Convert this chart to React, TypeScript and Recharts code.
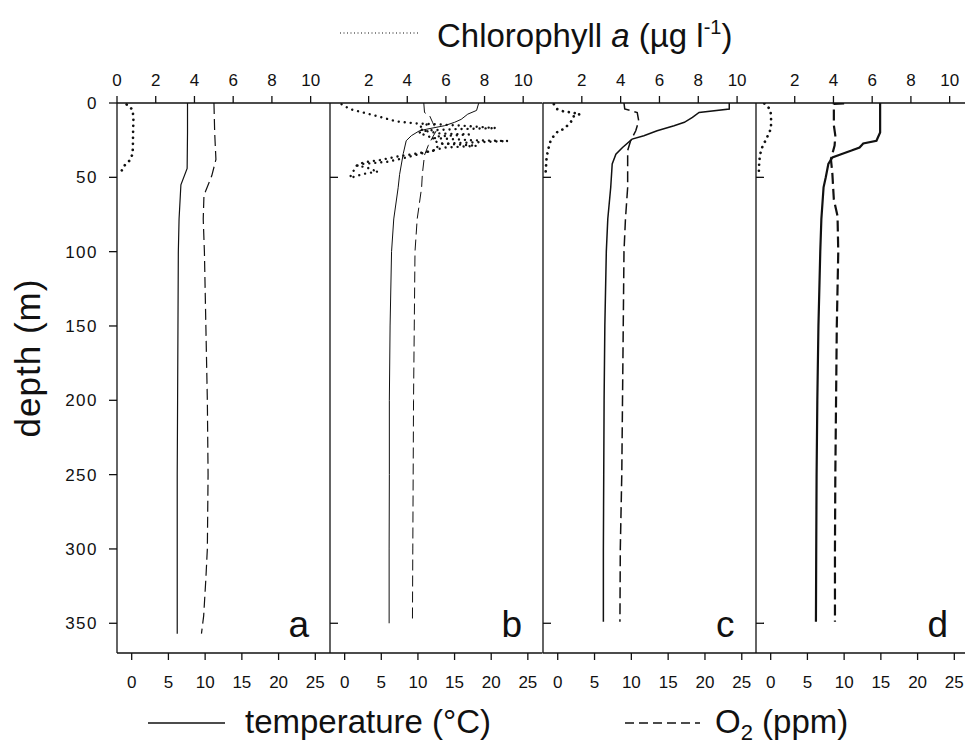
import React from "react";
import { ScatterChart, Scatter, XAxis, YAxis } from "recharts";

type Pt = { v: number; d: number };
const pts = (rows: number[][]): Pt[] => rows.map(([v, d]) => ({ v, d }));

// station a
const tempA = pts([[7.6, 0], [7.6, 20], [7.55, 44], [6.7, 55], [6.45, 78], [6.35, 100], [6.3, 150], [6.25, 200], [6.2, 250], [6.2, 300], [6.2, 357]]);
const o2A = pts([[11.2, 0], [11.3, 20], [11.47, 38], [10.9, 49], [9.84, 62], [9.74, 78], [9.9, 100], [10.1, 150], [10.3, 200], [10.4, 250], [10.3, 300], [10.1, 320], [9.8, 345], [9.5, 357]]);
const chlA = pts([[0.5, 1], [0.8, 4.4], [0.85, 10], [0.83, 20], [0.82, 30], [0.8, 34.6], [0.63, 39], [0.36, 42.4], [0.19, 46.9]]);

// station b
const tempB = pts([[18.3, 0], [18.0, 5], [16.8, 7.5], [15.9, 11], [15.0, 13], [13.6, 15.3], [11.2, 17.6], [10.2, 18.7], [9.1, 22], [8.4, 25.4], [8.0, 34], [7.5, 48], [7.3, 57], [6.7, 78], [6.4, 100], [6.2, 150], [6.1, 200], [6.1, 250], [6.07, 300], [6.07, 350]]);
const o2B = pts([[10.8, 0], [10.9, 6.4], [11.6, 8.6], [12.0, 13], [12.5, 18.7], [12.0, 23], [11.4, 28.7], [10.9, 35], [10.6, 48], [10.5, 57], [9.9, 78], [9.6, 100], [9.5, 150], [9.4, 200], [9.35, 250], [9.3, 300], [9.25, 350]]);
const chlB1 = pts([[0.6, 0.8], [1.03, 4.1], [1.72, 6.4], [2.58, 9.3], [3.44, 12.4], [4.47, 13.8], [5.33, 14.2], [6.87, 15.3], [8.6, 16.9], [6.5, 17.6], [5.0, 18.5], [4.6, 20], [5.0, 22], [5.3, 23.5], [7.2, 25], [9.2, 25.6], [7.5, 26.5], [5.8, 27.5], [5.5, 30], [5.4, 32], [4.3, 34.4], [3.44, 36.1], [2.58, 38.4], [1.72, 40], [1.37, 42.2], [1.03, 50]]);
const chlB2 = pts([[5.0, 14.5], [4.6, 16.5], [4.8, 18.5], [5.7, 20.5], [7.2, 21.2], [5.6, 22.5], [5.3, 24], [5.6, 27], [7.6, 28.8], [5.9, 30], [5.0, 33], [4.0, 36.5], [3.0, 39.5], [1.7, 41], [1.4, 42.2], [1.9, 43.3], [2.15, 44.9], [2.5, 46], [1.7, 47.8], [1.03, 50.5]]);

// station c
const tempC = pts([[23.3, 0], [23.3, 4.1], [19.2, 6.4], [18.3, 9.7], [17.2, 13], [15.8, 15.3], [13.5, 18.7], [11.7, 22], [10.1, 24.3], [8.8, 29.9], [7.9, 34.4], [7.4, 41], [7.2, 56.7], [6.8, 78], [6.6, 100], [6.4, 150], [6.3, 200], [6.25, 250], [6.2, 300], [6.2, 349]]);
const o2C = pts([[9.0, 0], [9.1, 4], [10.8, 6.4], [11.0, 12], [10.6, 18.7], [9.9, 25.4], [9.5, 32], [9.5, 56.7], [9.2, 78], [9.0, 100], [8.9, 150], [8.8, 200], [8.7, 250], [8.5, 300], [8.45, 349]]);
const chlC = pts([[0.56, 0.8], [0.73, 4.1], [1.07, 5.7], [1.5, 6.4], [1.9, 7.5], [1.59, 8.6], [1.55, 10.9], [1.33, 14.2], [1.07, 17.6], [0.81, 18.5], [0.56, 22], [0.39, 25.4], [0.25, 32], [0.18, 37.7], [0.13, 47.8]]);

// station d
const tempD = pts([[14.9, 0], [14.9, 19.8], [14.4, 25.4], [12.6, 27.2], [12.1, 29.9], [11.0, 32], [9.4, 34.8], [8.4, 36.6], [7.85, 41], [7.5, 50], [7.2, 56.7], [6.9, 78], [6.75, 100], [6.5, 150], [6.35, 200], [6.25, 250], [6.2, 300], [6.16, 349]]);
const o2D = pts([[10.0, 0.3], [8.6, 0.6], [8.6, 15], [8.8, 22], [8.7, 28.7], [8.2, 37.7], [8.4, 47.8], [8.5, 56.7], [8.6, 65], [9.1, 76], [9.2, 100], [9.0, 150], [8.9, 200], [8.8, 250], [8.75, 300], [8.75, 349]]);
const chlD = pts([[0.43, 0.4], [0.72, 4.1], [0.77, 7.5], [0.78, 12], [0.77, 17.6], [0.63, 20.9], [0.55, 24.3], [0.38, 27.6], [0.26, 32], [0.19, 36.6], [0.15, 43.3], [0.15, 47.8]]);

const depthTicks = [0, 50, 100, 150, 200, 250, 300, 350];
const innerDepthTicks = [50, 350];
const chlTicksFirst = [0, 2, 4, 6, 8, 10];
const chlTicks = [2, 4, 6, 8, 10];
const tempTicks = [0, 5, 10, 15, 20, 25];
const panelLetters = ["a", "b", "c", "d"];

const FONT = "'Liberation Sans', Arial, Helvetica, sans-serif";
const INK = "#111";
const axisStyle = { stroke: INK, strokeWidth: 1.3 };
const tickText = { fill: INK, fontSize: 17, fontFamily: FONT };
const noShape = () => <g />;
const noTick = () => <g />;
const PAD = 10; // keeps the left axis line of panels b-d from being clipped by the svg edge

interface PanelProps {
  left: number;
  width: number;
  first?: boolean;
  temp: Pt[];
  o2: Pt[];
  chl: Pt[][];
  weight: number;
  dot: number;
}

function Panel({ left, width, first, temp, o2, chl, weight, dot }: PanelProps) {
  const offset = first ? left : PAD;
  return (
    <div style={{ position: "absolute", left: left - offset, top: 0 }}>
      <ScatterChart
        width={width + offset}
        height={745}
        margin={{ top: 0, right: 0, bottom: 0, left: first ? 0 : PAD }}
      >
        <XAxis
          xAxisId="chl"
          orientation="top"
          type="number"
          dataKey="v"
          domain={[0, 11]}
          ticks={first ? chlTicksFirst : chlTicks}
          interval={0}
          allowDataOverflow
          height={103}
          tickSize={7}
          tickMargin={10}
          axisLine={axisStyle}
          tickLine={axisStyle}
          tick={tickText}
        />
        <XAxis
          xAxisId="t"
          orientation="bottom"
          type="number"
          dataKey="v"
          domain={[-2, 27]}
          ticks={tempTicks}
          interval={0}
          allowDataOverflow
          height={92}
          tickSize={7}
          tickMargin={16}
          axisLine={axisStyle}
          tickLine={axisStyle}
          tick={tickText}
        />
        {first ? (
          <YAxis
            yAxisId="z"
            type="number"
            dataKey="d"
            reversed
            domain={[0, 370]}
            ticks={depthTicks}
            interval={0}
            allowDataOverflow
            width={left}
            tickSize={8}
            tickMargin={11}
            axisLine={axisStyle}
            tickLine={axisStyle}
            tick={{ ...tickText, letterSpacing: 1.5 }}
          />
        ) : (
          <YAxis
            yAxisId="z"
            type="number"
            dataKey="d"
            reversed
            mirror
            domain={[0, 370]}
            ticks={innerDepthTicks}
            interval={0}
            allowDataOverflow
            width={20}
            tickSize={8}
            axisLine={axisStyle}
            tickLine={axisStyle}
            tick={noTick}
          />
        )}
        {chl.map((s, i) => (
          <Scatter
            key={i}
            xAxisId="chl"
            yAxisId="z"
            data={s}
            fill={INK}
            shape={noShape}
            line={{ stroke: INK, strokeWidth: dot, strokeDasharray: "0.01 6", strokeLinecap: "round" }}
            isAnimationActive={false}
          />
        ))}
        <Scatter
          xAxisId="t"
          yAxisId="z"
          data={temp}
          fill={INK}
          shape={noShape}
          line={{ stroke: INK, strokeWidth: weight }}
          isAnimationActive={false}
        />
        <Scatter
          xAxisId="t"
          yAxisId="z"
          data={o2}
          fill={INK}
          shape={noShape}
          line={{ stroke: INK, strokeWidth: weight, strokeDasharray: "11 5" }}
          isAnimationActive={false}
        />
      </ScatterChart>
    </div>
  );
}

const panelLefts = [117, 330, 542.5, 756];

export default function App() {
  return (
    <div
      style={{
        position: "absolute",
        left: 0,
        top: 0,
        width: 965,
        height: 745,
        overflow: "hidden",
        background: "#fff",
        fontFamily: FONT,
      }}
    >
      <Panel left={117} width={213} first temp={tempA} o2={o2A} chl={[chlA]} weight={1.2} dot={2.7} />
      <Panel left={330} width={212.5} temp={tempB} o2={o2B} chl={[chlB1, chlB2]} weight={1} dot={2.4} />
      <Panel left={542.5} width={213.5} temp={tempC} o2={o2C} chl={[chlC]} weight={1.5} dot={2.7} />
      <Panel left={756} width={213} temp={tempD} o2={o2D} chl={[chlD]} weight={2.2} dot={2.7} />
      <svg
        width={965}
        height={745}
        style={{ position: "absolute", left: 0, top: 0, pointerEvents: "none" }}
        fontFamily={FONT}
        fill={INK}
      >
        <line x1={340} x2={419} y1={33} y2={33} stroke={INK} strokeWidth={1.2} strokeDasharray="1 2.5" />
        <text x={437} y={47} fontSize={33}>
          Chlorophyll <tspan fontStyle="italic">a</tspan> (µg l
          <tspan dy={-13} fontSize={20}>-1</tspan>
          <tspan dy={13}>)</tspan>
        </text>
        <text x={40} y={358} fontSize={35} letterSpacing={1} textAnchor="middle" transform="rotate(-90 40 358)">
          depth (m)
        </text>
        {panelLetters.map((l, i) => (
          <text key={l} x={panelLefts[i] + 192} y={637} fontSize={37} textAnchor="end">
            {l}
          </text>
        ))}
        <line x1={148} x2={225} y1={723} y2={723} stroke={INK} strokeWidth={1.3} />
        <text x={245} y={733} fontSize={33}>
          temperature (°C)
        </text>
        <line x1={625} x2={700} y1={723} y2={723} stroke={INK} strokeWidth={1.3} strokeDasharray="9 5" />
        <text x={715} y={733} fontSize={33}>
          O<tspan dy={7} fontSize={22}>2</tspan>
          <tspan dy={-7}> (ppm)</tspan>
        </text>
      </svg>
    </div>
  );
}
